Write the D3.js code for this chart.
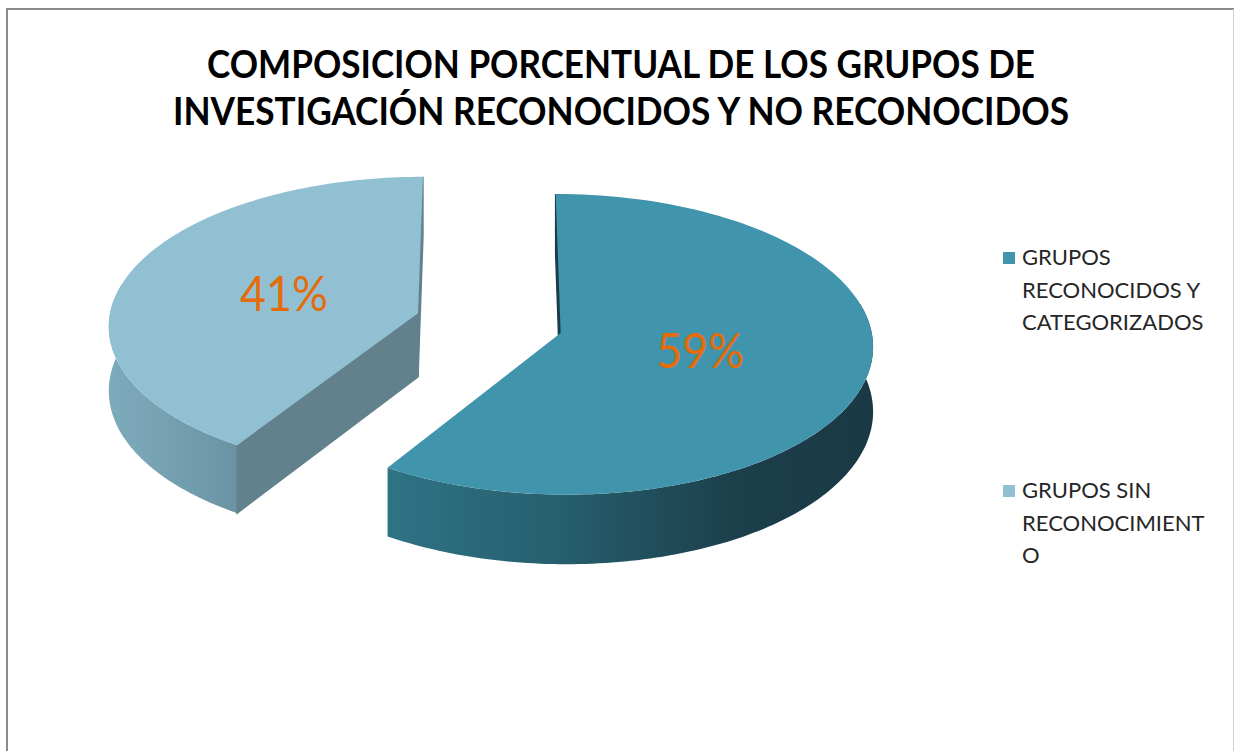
<!DOCTYPE html>
<html>
<head>
<meta charset="utf-8">
<title>Composición porcentual de los grupos de investigación</title>
<script src="https://cdnjs.cloudflare.com/ajax/libs/d3/7.8.5/d3.min.js"></script>
<style>
  body { margin: 0; background: #fff; }
  svg text { font-family: Lato, "Open Sans", sans-serif; }
</style>
</head>
<body>
<div id="chart"></div>
<script>
// data
const titleLines = ["COMPOSICION PORCENTUAL DE LOS GRUPOS DE", "INVESTIGACIÓN RECONOCIDOS Y NO RECONOCIDOS"];
const categories = ["GRUPOS RECONOCIDOS Y CATEGORIZADOS", "GRUPOS SIN RECONOCIMIENTO"];
const legendLines = [["GRUPOS", "RECONOCIDOS Y", "CATEGORIZADOS"], ["GRUPOS SIN", "RECONOCIMIENT", "O"]];
const values = [59, 41];

// styles
const topColors = ["#4094ac", "#92c0d3"];
const cutColors = ["#1b3d49", "#62818d"];
const wallStops = [
  [["0", "#2f7385"], ["0.35", "#265f6e"], ["0.72", "#1c3f4b"], ["1", "#1a3944"]],
  [["0", "#7eabbc"], ["1", "#6a94a4"]]
];

const W = 1234, H = 751;
// 3D pie view: vanishing centre, radii, thickness, perspective and explode amount
const view = { vx: 489, vy: 323, sx: 309.5, sy: 148, depth: 64, persp: 0.075, explode: 0.24 };

const svg = d3.select('#chart').append('svg')
  .attr('width', W).attr('height', H);

svg.append('rect').attr('width', W).attr('height', H).attr('fill', '#fff');

// chart frame
svg.append('line').attr('x1', 7).attr('x2', W).attr('y1', 9).attr('y2', 9)
  .attr('stroke', '#8c8c8c').attr('stroke-width', 2);
svg.append('line').attr('x1', 7).attr('x2', 7).attr('y1', 8).attr('y2', H)
  .attr('stroke', '#8c8c8c').attr('stroke-width', 2);
svg.append('line').attr('x1', 1233.5).attr('x2', 1233.5).attr('y1', 9).attr('y2', H)
  .attr('stroke', '#cfcfcf').attr('stroke-width', 1);

// title
const titleLen = [828, 896];
svg.selectAll('text.title')
  .data(titleLines)
  .join('text')
  .attr('class', 'title')
  .attr('x', 621)
  .attr('y', (d, i) => 78 + i * 47)
  .attr('text-anchor', 'middle')
  .attr('font-size', 39)
  .attr('font-weight', 'bold')
  .attr('fill', '#000')
  .attr('textLength', (d, i) => titleLen[i])
  .attr('lengthAdjust', 'spacingAndGlyphs')
  .text(d => d);

// projection of a point on the pie (u right, v back, z 0=top 1=bottom)
function proj(u, v, z) {
  const s = 1 / (1 + view.persp * v);
  return [view.vx + view.sx * u * s, view.vy - view.sy * v * s + z * view.depth * s];
}

const arcs = d3.pie().sort(null).value(d => d)(values);
const total = d3.sum(values);
const pct = d3.format('.0%');
const line = d3.line();
const defs = svg.append('defs');
const pieG = svg.append('g');

arcs.forEach((d, i) => {
  const a0 = d.startAngle, a1 = d.endAngle;
  const mid = (a0 + a1) / 2;
  const ou = view.explode * Math.sin(mid), ov = view.explode * Math.cos(mid);
  const pt = (a, r, z) => proj(ou + r * Math.sin(a), ov + r * Math.cos(a), z);
  const rim = (b0, b1, z) => d3.range(121).map(k => pt(b0 + (b1 - b0) * k / 120, 1, z));

  const g = pieG.append('g');

  // outer wall (front part only)
  const w0 = Math.max(a0, Math.PI / 2 - 0.2), w1 = Math.min(a1, 3 * Math.PI / 2 + 0.2);
  if (w1 > w0) {
    const topRim = rim(w0, w1, 0), botRim = rim(w0, w1, 1).reverse();
    const xs = topRim.map(p => p[0]);
    const gid = 'wall' + i;
    defs.append('linearGradient')
      .attr('id', gid)
      .attr('gradientUnits', 'userSpaceOnUse')
      .attr('x1', d3.min(xs)).attr('x2', d3.max(xs)).attr('y1', 0).attr('y2', 0)
      .selectAll('stop')
      .data(wallStops[i])
      .join('stop')
      .attr('offset', s => s[0])
      .attr('stop-color', s => s[1]);
    g.append('path')
      .attr('d', line(topRim.concat(botRim)) + 'Z')
      .attr('fill', `url(#${gid})`);
  }

  // cut faces, drawn only when turned to the viewer
  [[a0, -1], [a1, 1]].forEach(([a, side]) => {
    const quad = [pt(a, 0, 0), pt(a, 1, 0), pt(a, 1, 1), pt(a, 0, 1)];
    const area = d3.polygonArea(quad);
    if (area * side < 0) {
      g.append('path')
        .attr('d', line(quad) + 'Z')
        .attr('fill', cutColors[i])
        .attr('stroke', cutColors[i])
        .attr('stroke-width', 1.5);
    }
  });

  // top face
  g.append('path')
    .attr('d', line([pt(0, 0, 0)].concat(rim(a0, a1, 0))) + 'Z')
    .attr('fill', topColors[i]);

  // percentage label
  const c = pt(mid, 0.46, 0);
  g.append('text')
    .attr('x', c[0])
    .attr('y', c[1] + 16)
    .attr('text-anchor', 'middle')
    .attr('font-size', 49)
    .attr('fill', '#e46c0a')
    .attr('textLength', 88)
    .attr('lengthAdjust', 'spacingAndGlyphs')
    .text(pct(d.value / total));
});

// legend
const legend = svg.append('g').attr('transform', 'translate(1003, 252)');
const items = legend.selectAll('g')
  .data(categories)
  .join('g')
  .attr('transform', (d, i) => `translate(0, ${i * 233})`);

items.append('rect')
  .attr('width', 12).attr('height', 12)
  .attr('fill', (d, i) => topColors[i]);

items.each(function (d, i) {
  d3.select(this).selectAll('text')
    .data(legendLines[i])
    .join('text')
    .attr('x', 19)
    .attr('y', (t, j) => 13 + j * 32.5)
    .attr('font-size', 22)
    .attr('fill', '#262626')
    .text(t => t);
});
</script>
</body>
</html>
